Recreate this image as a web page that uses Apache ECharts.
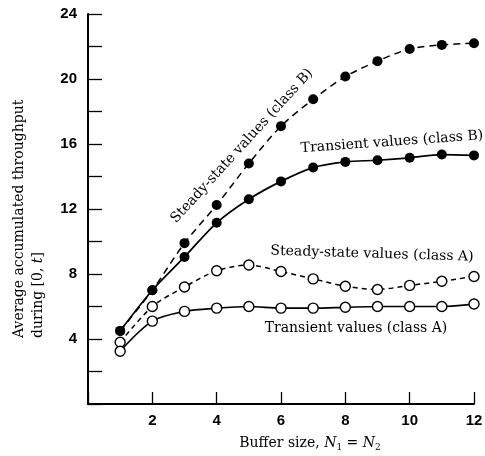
<!DOCTYPE html>
<html>
<head>
<meta charset="utf-8">
<script src="https://cdn.jsdelivr.net/npm/echarts@6/dist/echarts.min.js"></script>
<style>
  html, body { margin: 0; padding: 0; background: #fff; }
  #chart { width: 485px; height: 456px; }
</style>
</head>
<body>
<div id="chart"></div>
<script>
// Buffer sizes N1 = N2
const bufferSizes = [1, 2, 3, 4, 5, 6, 7, 8, 9, 10, 11, 12];

// Average accumulated throughput during [0, t]
const steadyStateB = [4.5, 7.0, 9.9, 12.25, 14.8, 17.1, 18.75, 20.15, 21.1, 21.85, 22.1, 22.2];
const transientB   = [4.5, 7.0, 9.05, 11.15, 12.6, 13.7, 14.55, 14.9, 15.0, 15.15, 15.35, 15.3];
const steadyStateA = [3.8, 6.0, 7.2, 8.2, 8.55, 8.15, 7.7, 7.25, 7.05, 7.3, 7.55, 7.85];
const transientA   = [3.25, 5.1, 5.7, 5.9, 6.0, 5.9, 5.9, 5.95, 6.0, 6.0, 6.0, 6.15];

// Labelled ticks
const xTickLabels = [2, 4, 6, 8, 10, 12];
const yTickLabels = [4, 8, 12, 16, 20, 24];

const SERIF = "'DejaVu Serif', 'Liberation Serif', serif";
const SANS = "'Liberation Sans', Arial, sans-serif";

const pairs = (ys) => bufferSizes.map((x, i) => [x, ys[i]]);

function curve(name, values, filled, dashed) {
  return {
    name: name,
    type: 'line',
    data: pairs(values),
    smooth: 0.3,
    symbol: 'circle',
    symbolSize: 10,
    showSymbol: true,
    itemStyle: filled
      ? { color: '#000', borderColor: '#000', borderWidth: 0 }
      : { color: '#fff', borderColor: '#000', borderWidth: 1.4 },
    lineStyle: { color: '#000', width: dashed ? 1.5 : 1.7, type: dashed ? (filled ? [7, 5] : [5, 4]) : 'solid' },
    emphasis: { disabled: true },
    animation: false,
    z: filled ? 3 : 4
  };
}

const chart = echarts.init(document.getElementById('chart'), null, { renderer: 'canvas' });

chart.setOption({
  backgroundColor: '#fff',
  animation: false,
  grid: { left: 88, right: 11, top: 14, bottom: 52, containLabel: false, outerBoundsMode: 'none' },
  xAxis: {
    type: 'value',
    min: 0, max: 12, interval: 2,
    axisLine: { lineStyle: { color: '#000', width: 2 } },
    axisTick: { inside: true, length: 12, lineStyle: { color: '#000', width: 1.3 } },
    axisLabel: {
      margin: 9,
      color: '#000',
      fontFamily: SANS,
      fontWeight: 'bold',
      fontSize: 15,
      formatter: (v) => (xTickLabels.includes(v) ? String(v) : '')
    },
    splitLine: { show: false }
  },
  yAxis: {
    type: 'value',
    min: 0, max: 24, interval: 2,
    axisLine: { show: true, lineStyle: { color: '#000', width: 2 } },
    axisTick: { show: true, inside: true, length: 14, lineStyle: { color: '#000', width: 1.3 } },
    axisLabel: {
      margin: 11,
      color: '#000',
      fontFamily: SANS,
      fontWeight: 'bold',
      fontSize: 15,
      formatter: (v) => (yTickLabels.includes(v) ? String(v) : '')
    },
    splitLine: { show: false }
  },
  series: [
    curve('Steady-state values (class B)', steadyStateB, true, true),
    curve('Transient values (class B)', transientB, true, false),
    curve('Steady-state values (class A)', steadyStateA, false, true),
    curve('Transient values (class A)', transientA, false, false)
  ],
  graphic: [
    {
      type: 'text', x: 242, y: 146, rotation: 0.83,
      style: { text: 'Steady-state values (class B)', font: '14px ' + SERIF, fill: '#000', textAlign: 'center', textVerticalAlign: 'middle' }
    },
    {
      type: 'text', x: 392, y: 142, rotation: 0.072,
      style: { text: 'Transient values (class B)', font: '14px ' + SERIF, fill: '#000', textAlign: 'center', textVerticalAlign: 'middle' }
    },
    {
      type: 'text', x: 372, y: 254, rotation: -0.03,
      style: { text: 'Steady-state values (class A)', font: '14px ' + SERIF, fill: '#000', textAlign: 'center', textVerticalAlign: 'middle' }
    },
    {
      type: 'text', x: 356, y: 328, rotation: 0,
      style: { text: 'Transient values (class A)', font: '14px ' + SERIF, fill: '#000', textAlign: 'center', textVerticalAlign: 'middle' }
    },
    {
      type: 'text', x: 10, y: 338, rotation: Math.PI / 2,
      style: {
        text: 'Average accumulated throughput\nduring [0, {i|t}]',
        font: '14px ' + SERIF,
        fill: '#000',
        textAlign: 'left',
        textVerticalAlign: 'top',
        lineHeight: 19,
        rich: {
          i: { fontFamily: SERIF, fontStyle: 'italic', fontSize: 14, lineHeight: 19, fill: '#000' }
        }
      }
    },
    {
      type: 'text', x: 310, y: 443,
      style: {
        text: '{a|Buffer size, }{i|N}{s|1}{a| = }{i|N}{s|2}',
        fill: '#000',
        textAlign: 'center',
        textVerticalAlign: 'middle',
        rich: {
          a: { fontFamily: SERIF, fontSize: 14, lineHeight: 18, fill: '#000' },
          i: { fontFamily: SERIF, fontSize: 14, fontStyle: 'italic', lineHeight: 18, fill: '#000' },
          s: { fontFamily: SERIF, fontSize: 9, lineHeight: 9, verticalAlign: 'bottom', fill: '#000' }
        }
      }
    }
  ]
});
</script>
</body>
</html>
